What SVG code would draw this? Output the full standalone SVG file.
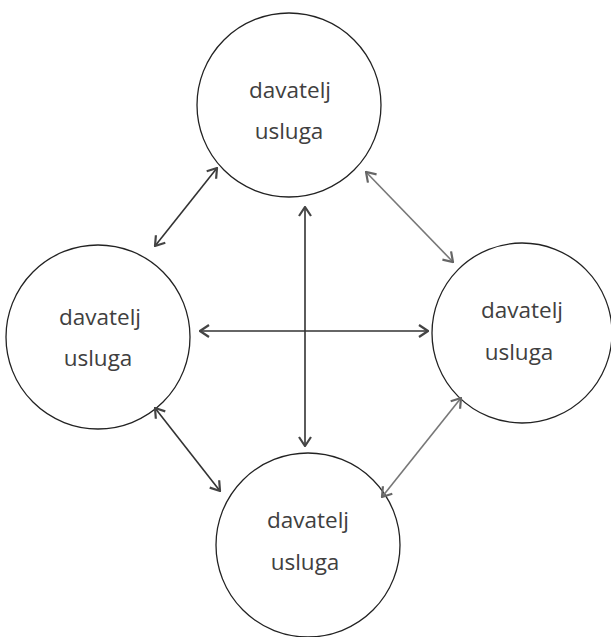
<svg xmlns="http://www.w3.org/2000/svg" width="611" height="637" viewBox="0 0 611 637">
<style>
.node circle{fill:#fff;stroke:#222;stroke-width:1.3}
.node text{font-family:"Open Sans","Noto Sans",sans-serif;font-size:22.5px;fill:#404040;text-anchor:middle}
.c line{stroke-width:1.6;fill:none}
.dark{stroke:#333}
.grey{stroke:#777}
</style>
<defs>
<marker id="ad" viewBox="0 0 12 14" refX="11" refY="7" markerWidth="12" markerHeight="14" markerUnits="userSpaceOnUse" orient="auto-start-reverse"><path d="M2,1 L11,7 L2,13" fill="none" stroke="#444" stroke-width="2.2"/></marker>
<marker id="ag" viewBox="0 0 12 14" refX="11" refY="7" markerWidth="12" markerHeight="14" markerUnits="userSpaceOnUse" orient="auto-start-reverse"><path d="M2,1 L11,7 L2,13" fill="none" stroke="#666" stroke-width="2.2"/></marker>
</defs>
<g id="n-top" class="node"><circle cx="289" cy="105" r="92"/><text x="290" y="98">davatelj</text><text x="289" y="139">usluga</text></g>
<g id="n-left" class="node"><circle cx="98" cy="337" r="92"/><text x="100" y="325">davatelj</text><text x="98" y="366">usluga</text></g>
<g id="n-right" class="node"><circle cx="522" cy="333" r="90"/><text x="522" y="318">davatelj</text><text x="519" y="360">usluga</text></g>
<g id="n-bottom" class="node"><circle cx="308" cy="545" r="92"/><text x="308" y="528">davatelj</text><text x="305" y="570">usluga</text></g>
<g id="connectors" class="c">
<line class="dark" x1="155" y1="246" x2="217" y2="168" marker-start="url(#ad)" marker-end="url(#ad)"/>
<line class="grey" x1="366" y1="172" x2="453" y2="262" marker-start="url(#ag)" marker-end="url(#ag)"/>
<line class="dark" x1="200" y1="331" x2="428" y2="331" marker-start="url(#ad)" marker-end="url(#ad)"/>
<line class="dark" x1="305" y1="207" x2="305" y2="446" marker-start="url(#ad)" marker-end="url(#ad)"/>
<line class="dark" x1="155" y1="408" x2="220" y2="491" marker-start="url(#ad)" marker-end="url(#ad)"/>
<line class="grey" x1="382" y1="497" x2="461" y2="398" marker-start="url(#ag)" marker-end="url(#ag)"/>
</g>
</svg>
